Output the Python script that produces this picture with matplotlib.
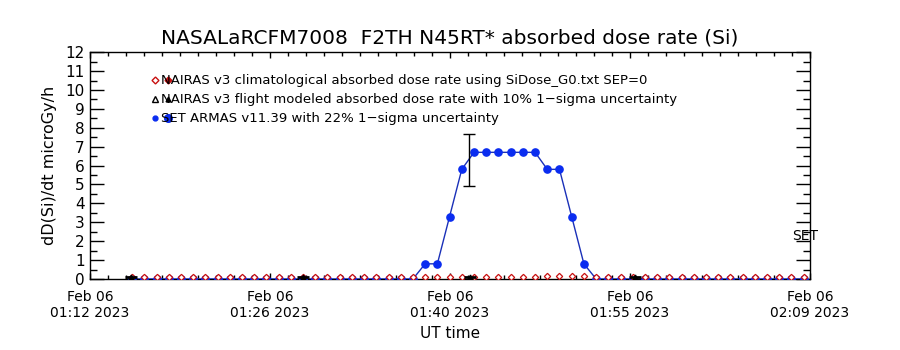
import numpy as np
import pandas as pd
import matplotlib
matplotlib.use("Agg")
import matplotlib.pyplot as plt
import matplotlib.dates as mdates
from matplotlib.ticker import AutoMinorLocator, MultipleLocator

plt.rcParams['font.family'] = ['DejaVu Sans']

# time axis and samples
x_start = pd.Timestamp("2023-02-06 01:12:15")
x_end = pd.Timestamp("2023-02-06 02:09:15")
xtick_labels = ["Feb 06\n01:12 2023", "Feb 06\n01:26 2023", "Feb 06\n01:40 2023",
                "Feb 06\n01:55 2023", "Feb 06\n02:09 2023"]
times = pd.date_range("2023-02-06 01:15:35", periods=56, freq="58s")

# SET ARMAS dose rate (microGy/h)
armas = [0, 0, 0, 0, 0, 0, 0, 0, 0, 0, 0, 0, 0, 0, 0, 0, 0, 0, 0, 0,
         0, 0, 0, 0, 0.8, 0.8, 3.3, 5.8, 6.7, 6.7, 6.7, 6.7, 6.7, 6.7, 5.8, 5.8,
         3.3, 0.8, 0, 0, 0, 0, 0, 0, 0, 0, 0, 0, 0, 0, 0, 0, 0, 0, 0, 0]
# NAIRAS climatological
nairas_clim = [0.12, 0.12, 0.12, 0.12, 0.12, 0.12, 0.12, 0.12, 0.12, 0.12, 0.12, 0.12, 0.12, 0.12,
               0.12, 0.12, 0.12, 0.12, 0.12, 0.12, 0.12, 0.12, 0.12, 0.12, 0.12, 0.12, 0.12, 0.12,
               0.12, 0.12, 0.12, 0.12, 0.12, 0.12, 0.18, 0.18, 0.18, 0.18, 0.12, 0.12, 0.12, 0.12,
               0.12, 0.12, 0.12, 0.12, 0.12, 0.12, 0.12, 0.12, 0.12, 0.12, 0.12, 0.12, 0.12, 0.12]
# NAIRAS flight modeled
flight_times = pd.to_datetime(["2023-02-06 01:15:30", "2023-02-06 01:29:05",
                               "2023-02-06 01:42:20", "2023-02-06 01:55:25"])
flight_vals = [0.1, 0.1, 0.1, 0.1]
# representative ARMAS error bar
err_time = pd.to_datetime(["2023-02-06 01:42:15"])
err_val = [6.29]
err_sig = [1.39]

blue = "#0a2cf0"
red = "#c81010"

fig = plt.figure(figsize=(9, 3.5), dpi=100)
ax = fig.add_axes([0.1, 0.203, 0.8, 0.648])

ax.plot(times, armas, color="#1a30b8", lw=1.0, marker="o", ms=5.2,
        mfc=blue, mec=blue, zorder=3, clip_on=True)
ax.plot(times, nairas_clim, ls="none", marker="D", ms=3.2, mfc="white",
        mec=red, mew=0.9, zorder=4)
ax.plot(flight_times, flight_vals, ls="none", marker="^", ms=3.5, color="black", zorder=5)
ax.plot(flight_times, flight_vals, ls="none", marker="_", ms=8, mew=2, color="black", zorder=5)
ax.errorbar(err_time, err_val, yerr=err_sig, fmt="none", ecolor="black",
            elinewidth=1.0, capsize=4, capthick=1.0, zorder=6)

xnum = mdates.date2num([x_start, x_end])
ax.set_xlim(xnum[0], xnum[1])
ax.set_xticks(np.linspace(xnum[0], xnum[1], 5))
ax.set_xticklabels(xtick_labels, fontsize=10)
ax.xaxis.set_minor_locator(AutoMinorLocator(10))
ax.set_ylim(0, 12)
ax.yaxis.set_major_locator(MultipleLocator(1))
ax.yaxis.set_minor_locator(MultipleLocator(0.5))
ax.tick_params(axis="y", which="major", direction="in", length=10, width=1,
               right=True, labelsize=11, pad=4)
ax.tick_params(axis="y", which="minor", direction="in", length=5, width=1, right=True)
ax.tick_params(axis="x", which="major", direction="in", length=4.5, width=1,
               top=True, pad=8)
ax.tick_params(axis="x", which="minor", direction="in", length=3, width=1, top=True)
for s in ax.spines.values():
    s.set_linewidth(1.0)

ax.set_title("NASALaRCFM7008  F2TH N45RT* absorbed dose rate (Si)", fontsize=14.5, pad=6)
ax.set_ylabel("dD(Si)/dt microGy/h", fontsize=11.5, labelpad=6)
ax.set_xlabel("UT time", fontsize=11, labelpad=4)

# legend drawn IDL style
leg_texts = ["NAIRAS v3 climatological absorbed dose rate using SiDose_G0.txt SEP=0",
             "NAIRAS v3 flight modeled absorbed dose rate with 10% 1\u2212sigma uncertainty",
             "SET ARMAS v11.39 with 22% 1\u2212sigma uncertainty"]
rows = [0.877, 0.793, 0.709]
ax.plot(0.09, rows[0], marker="D", ms=3.5, mfc="white", mec=red, transform=ax.transAxes, clip_on=False)
ax.plot(0.108, rows[0], marker="D", ms=3.5, mfc=red, mec=red, transform=ax.transAxes, clip_on=False)
ax.plot(0.09, rows[1], marker="^", ms=4.5, mfc="white", mec="black", transform=ax.transAxes, clip_on=False)
ax.plot(0.108, rows[1], marker="^", ms=3.5, mfc="black", mec="black", transform=ax.transAxes, clip_on=False)
ax.plot(0.09, rows[2], marker="o", ms=3.5, mfc=blue, mec=blue, transform=ax.transAxes, clip_on=False)
ax.plot(0.108, rows[2], marker="o", ms=5.5, mfc=blue, mec=blue, transform=ax.transAxes, clip_on=False)
for r, t in zip(rows, leg_texts):
    ax.text(0.099, r, t, transform=ax.transAxes, fontsize=9.5, va="center", ha="left")

ax.text(0.993, 0.19, "SET", transform=ax.transAxes, fontsize=10, va="center", ha="center")

fig.savefig("out.png", dpi=100)
